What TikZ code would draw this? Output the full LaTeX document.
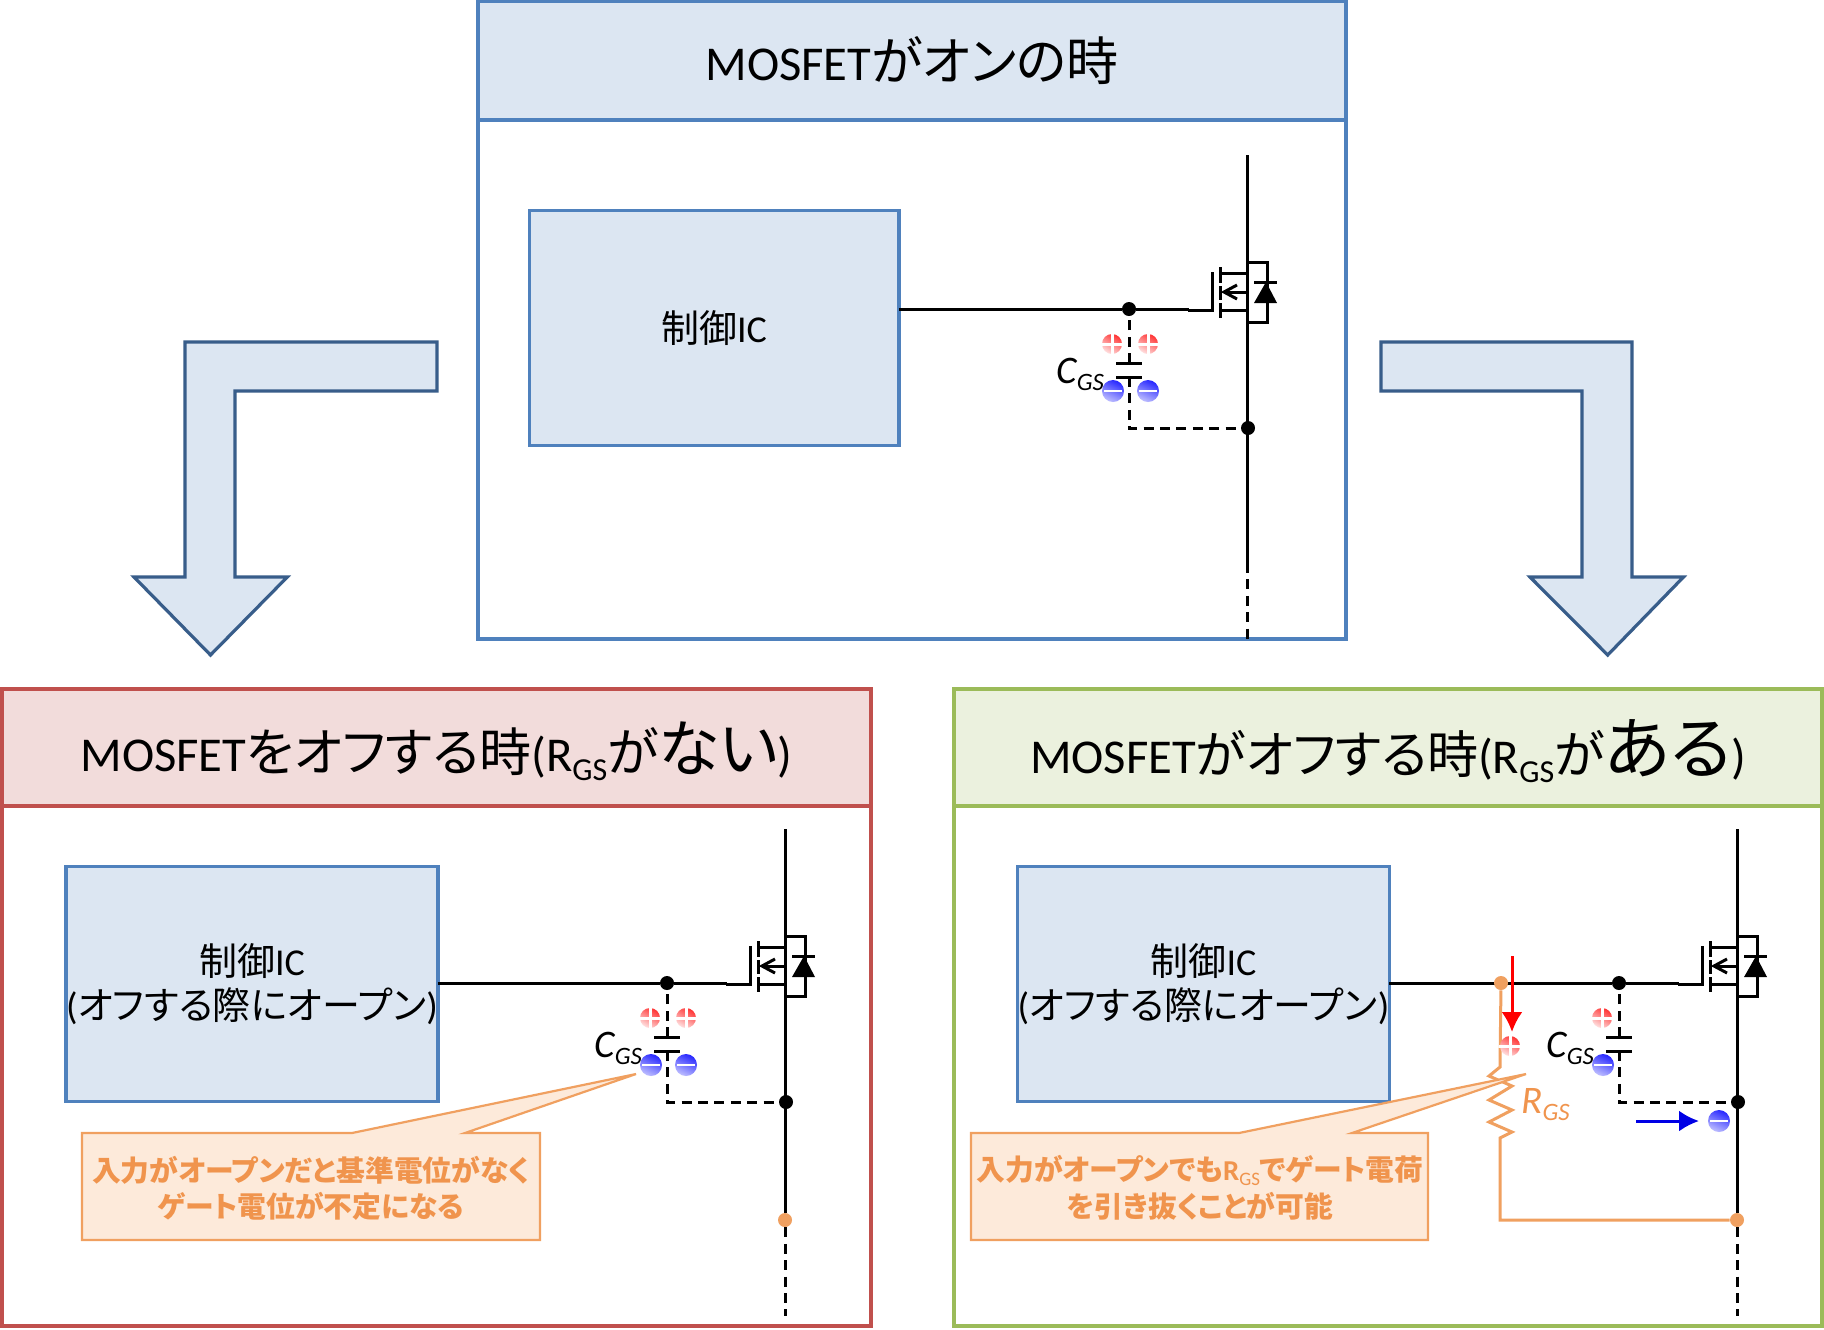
\documentclass[tikz,border=0pt]{standalone}
\usepackage{fontspec}
\usetikzlibrary{arrows.meta}
\setmainfont{Carlito}
\newfontfamily\cjkfont[RawFeature=+palt]{Noto Sans CJK JP}
\newcommand{\jp}[1]{{\cjkfont #1}}
\newcommand{\fs}[1]{\fontsize{#1pt}{#1pt}\selectfont}
\newcommand{\lowsub}[3]{\raisebox{-#1pt}{\fs{#2}#3}}
\definecolor{bluefill}{HTML}{DCE6F2}
\definecolor{blueline}{HTML}{4F81BD}
\definecolor{arrowline}{HTML}{385D8A}
\definecolor{redfill}{HTML}{F2DCDB}
\definecolor{redline}{HTML}{C0504D}
\definecolor{greenfill}{HTML}{EBF1DE}
\definecolor{greenline}{HTML}{9BBB59}
\definecolor{orangeline}{HTML}{F0A060}
\definecolor{orangefill}{HTML}{FDEADA}
\definecolor{orangetext}{HTML}{F0944D}
\tikzset{
  wire/.style={line width=1.5pt,black},
  dashwire/.style={line width=1.5pt,black,dash pattern=on 5pt off 3.2pt},
  jdot/.style={circle,fill=black,inner sep=0pt,minimum size=7pt},
  odot/.style={circle,fill=orangeline,inner sep=0pt,minimum size=7pt},
  orwire/.style={line width=1.5pt,orangeline,line join=miter},
  panel/.style={line width=1.75pt},
  icbox/.style={draw=blueline,fill=bluefill,line width=1.75pt,inner sep=0pt,outer sep=0pt,align=center,
    minimum width=184.75pt,minimum height=117.5pt,font=\fs{19}},
  bigarrow/.style={draw=arrowline,fill=bluefill,line width=1.6pt,line join=miter},
  callout/.style={draw=orangeline,fill=orangefill,line width=1.1pt,line join=miter},
  calltext/.style={text=orangetext,font=\fs{14.4}\bfseries,inner sep=0pt,align=center},
  arrowtip/.style={-{Latex[length=10pt,width=10.5pt]},line width=1.5pt},
}
\newcommand{\plusball}[2]{%
  \shade[top color=red!80!white,bottom color=red!12!white,shading angle=-30] (#1,#2) circle[radius=5pt];
  \draw[white,line width=1.5pt] (#1-11,#2)--(#1+11,#2) (#1,#2-11)--(#1,#2+11);}
\newcommand{\minusball}[2]{%
  \shade[top color=blue!85!white,bottom color=blue!25!white,shading angle=-25] (#1,#2) circle[radius=5.5pt];
  \draw[white,line width=1pt] (#1-9,#2)--(#1+9,#2);}
% #1 prefix, #2 dx, #3 dy
\newcommand{\fet}[3]{%
\begin{scope}[shift={(#2,#3)}]
  \coordinate (#1d) at (1247,155);
  \coordinate (#1gend) at (1189,309);
  \coordinate (#1ct) at (1129,363);
  \coordinate (#1cb) at (1129,377);
  \coordinate (#1cc) at (1129,428);
  \draw[dashwire] (#1ct) -- (1129,309);
  \draw[dashwire] (#1cb) -- (#1cc) -- (1247,428);
  \draw[wire] (1116,363)--(1142,363) (1116,377)--(1142,377);
  \draw[wire,line cap=rect] (1189,310)--(1212,310)--(1212,273);
  \draw[wire] (1220,267)--(1220,283) (1220,286)--(1220,300) (1220,303)--(1220,318);
  \draw[wire] (1220,273)--(1247,273) (1224,292)--(1247,292) (1220,310)--(1247,310);
  \draw[wire,line join=miter] (1237,285)--(1224,292)--(1237,299);
  \draw[wire,line join=miter] (1247,262)--(1267,262)--(1267,322)--(1247,322);
  \draw[wire] (1254,282)--(1277,282);
  \fill[black] (1266,282)--(1277,303)--(1254,303)--cycle;
  \node[jdot] (#1g) at (1129,309) {};
  \node[jdot] (#1s) at (1248,428) {};
  \node[anchor=base west,inner sep=0pt,font=\fs{19.5}\itshape] (#1cgs) at (1056,383) {C\lowsub{3.5}{12.5}{GS}};
  \plusball{1112}{344}
  \minusball{1113}{391}
\end{scope}}
\begin{document}
\begin{tikzpicture}[x=0.5pt,y=-0.5pt]
\useasboundingbox (0,0) rectangle (1824,1329);
\fill[white] (0,0) rectangle (1824,1329);

% panels
\draw[panel,draw=blueline,fill=white] (478,1) rectangle (1346,639);
\draw[panel,draw=blueline,fill=bluefill] (478,1) rectangle (1346,120)
  node[midway,font=\fs{24.3}] (toptitle) {MOSFET{\fs{26}\jp{がオンの時}}};
\draw[panel,draw=redline,fill=white] (2,689) rectangle (871,1326);
\draw[panel,draw=redline,fill=redfill] (2,689) rectangle (871,806)
  node[midway,yshift=-1.75pt,font=\fs{24.3}] (lefttitle) {MOSFET{\fs{26}\jp{をオフする時}}(R\lowsub{4.5}{16}{GS}{\fs{26}\jp{が}}{\fs{31}\jp{ない}})};
\draw[panel,draw=greenline,fill=white] (954,689) rectangle (1822,1326);
\draw[panel,draw=greenline,fill=greenfill] (954,689) rectangle (1822,806)
  node[midway,yshift=-1.75pt,font=\fs{24.3}] (righttitle) {MOSFET{\fs{25.5}\jp{がオフする時}}(R\lowsub{4.5}{16}{GS}{\fs{25.5}\jp{が}}{\fs{34}\jp{ある}})};

% big arrows
\draw[bigarrow] (437,342)--(185,342)--(185,577)--(134,577)--(210.5,655)--(287.3,577)--(235,577)--(235,391)--(437,391)--cycle;
\draw[bigarrow] (1381,342)--(1632,342)--(1632,577)--(1683.5,577)--(1607.7,655)--(1530,577)--(1582,577)--(1582,391)--(1381,391)--cycle;

% IC boxes
\node[icbox] (ictop) at (714,328) {\jp{制御}IC};
\node[icbox] (icleft) at (252,984) {\jp{制御}IC\\[3pt](\jp{オフする際にオープン})};
\node[icbox] (icright) at (1203.5,984) {\jp{制御}IC\\[3pt](\jp{オフする際にオープン})};

% top circuit
\fet{a}{0}{0}
\draw[wire] (ictop.east |- ag) -- (ag) -- (agend);
\coordinate (atail) at (1247,563);
\coordinate (aend) at (1247,639);
\draw[wire] (ad) -- (atail);
\draw[dashwire] (atail) -- (aend);
\plusball{1148}{344}
\minusball{1148}{391}

% left circuit
\fet{b}{-462}{674}
\draw[wire] (icleft.east |- bg) -- (bg) -- (bgend);
\node[odot] (bo) at (785,1220) {};
\coordinate (bend) at (785,1316);
\draw[wire] (bd) -- (bo);
\draw[dashwire] (bo) -- (bend);
\plusball{686}{1018}
\minusball{686}{1065}

% right circuit
\fet{c}{490}{674}
\draw[wire] (icright.east |- cg) -- (cg) -- (cgend);
\node[odot] (co) at (1737,1220) {};
\coordinate (cend) at (1737,1316);
\draw[wire] (cd) -- (co);
\draw[dashwire] (co) -- (cend);
\node[odot] (rtop) at (1501,983) {};
\draw[orwire] (rtop) -- (1500,1067) -- (1489,1076) -- (1512,1086) -- (1489,1100) -- (1512,1110) -- (1489,1122) -- (1512,1132) -- (1500,1138) -- (1500,1220) -- (co);
\node[anchor=base west,inner sep=0pt,text=orangetext,font=\fs{19.5}\itshape] (rgs) at (1521,1113) {R\lowsub{3.5}{12.5}{GS}};
\coordinate (redfrom) at (1512,956);
\coordinate (redto) at (1512,1032);
\draw[arrowtip,red] (redfrom) -- (redto);
\plusball{1510}{1046}
\coordinate (bluefrom) at (1636,1121);
\coordinate (blueto) at (1699,1121);
\draw[arrowtip,blue!90!black] (bluefrom) -- (blueto);
\minusball{1719}{1121}

% callouts
\draw[callout] (82,1133)--(352,1133)--(636,1074)--(465,1133)--(540,1133)--(540,1240)--(82,1240)--cycle;
\node[calltext] (ltext1) at (311,1170) {\jp{入力がオープンだと基準電位がなく}};
\node[calltext] (ltext2) at (311,1206) {\jp{ゲート電位が不定になる}};
\draw[callout] (971,1133)--(1239,1133)--(1526,1074)--(1352,1133)--(1428,1133)--(1428,1240)--(971,1240)--cycle;
\node[calltext] (rtext1) at (1200,1170) {\jp{入力がオープンでも}R\lowsub{2.5}{9.5}{\normalfont GS}\jp{でゲート電荷}};
\node[calltext] (rtext2) at (1200,1206) {\jp{を引き抜くことが可能}};
\end{tikzpicture}
\end{document}
